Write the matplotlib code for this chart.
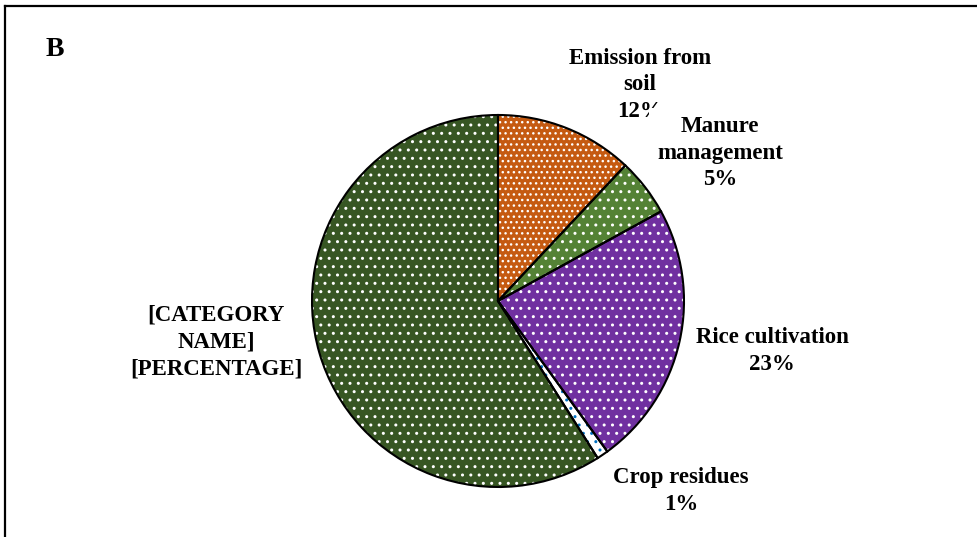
import matplotlib
matplotlib.use("Agg")
import matplotlib.pyplot as plt
from matplotlib.lines import Line2D

# data
categories = ["Emission from\nsoil", "Manure\nmanagement", "Rice cultivation",
              "Crop residues", "[CATEGORY\nNAME]"]
shares = [12, 5, 23, 1, 59]
pct_labels = ["12%", "5%", "23%", "1%", "[PERCENTAGE]"]

face = ["#C55A11", "#548235", "#7030A0", "#FFFFFF", "#375623"]
dots = ["#FFFFFF", "#FFFFFF", "#FFFFFF", "#0070C0", "#FFFFFF"]
hatches = ["...", "..", "..", "..", ".."]

W, H = 978, 537
fig = plt.figure(figsize=(W / 100, H / 100), dpi=100)
plt.rcParams['hatch.linewidth'] = 1.0

cx, cy, r = 498, 301, 186
ax = fig.add_axes([(cx - r) / W, (H - cy - r) / H, 2 * r / W, 2 * r / H])

# filled, hatched wedges (hatch colour follows edgecolor)
wedges, _ = ax.pie(shares, colors=face, startangle=90, counterclock=False,
                   wedgeprops=dict(linewidth=0, edgecolor="white", zorder=7))
for w, h, dc in zip(wedges, hatches, dots):
    w.set_edgecolor(dc)
    w.set_linewidth(0)
    w.set_hatch(h)

# black outlines on top
ax.pie(shares, colors=["none"] * len(shares), startangle=90, counterclock=False,
       wedgeprops=dict(linewidth=1.5, edgecolor="black", fill=False, zorder=8))
ax.set_xlim(-1, 1)
ax.set_ylim(-1, 1)


def px(x, y):
    return (x - cx) / r, (cy - y) / r


font = dict(family="Liberation Serif", weight="bold", fontsize=16.5,
            ha="center", va="center", linespacing=1.35)

label_pos = [(640, 85), (720, 153), (772, 351), (681, 491), (216, 342)]
for i, (cat, pct) in enumerate(zip(categories, pct_labels)):
    x, y = px(*label_pos[i])
    txt = cat + "\n" + pct
    if i == 1:
        # its white box hides part of the "12%" above, as in the source
        ax.text(x, y, txt, zorder=6,
                bbox=dict(facecolor="white", edgecolor="none", pad=6), **font)
    else:
        ax.text(x, y, txt, zorder=5, **font)

fig.text(55 / W, 1 - 49 / H, "B", family="Liberation Serif", weight="bold",
         fontsize=20, ha="center", va="center")

# frame (top and left only visible)
fig.add_artist(Line2D([5 / W, 1], [1 - 6 / H, 1 - 6 / H], color="black", lw=1.6,
                      transform=fig.transFigure))
fig.add_artist(Line2D([5 / W, 5 / W], [0, 1 - 6 / H], color="black", lw=1.6,
                      transform=fig.transFigure))

fig.savefig("out.png", dpi=100)
